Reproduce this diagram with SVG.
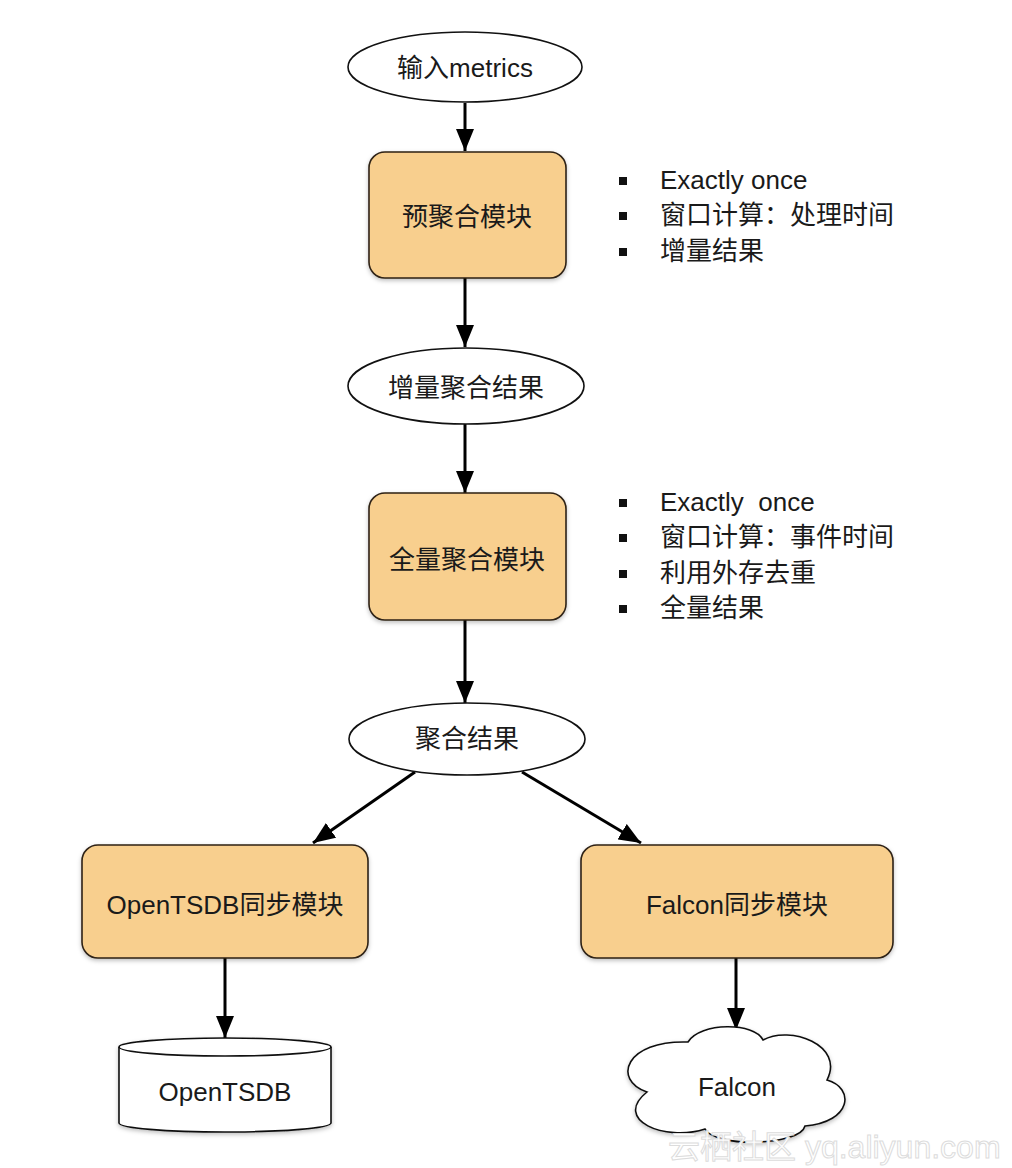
<svg xmlns="http://www.w3.org/2000/svg" width="1012" height="1168" viewBox="0 0 1012 1168">
<defs>
<style>
.t{font-family:"Liberation Sans","Noto Sans CJK SC",sans-serif;font-size:26px;fill:#1a1a1a}
.c{text-anchor:middle}
.box{fill:#f8cf8e;stroke:#2e2216;stroke-width:1.6}
.ell{fill:#fff;stroke:#111;stroke-width:1.6}
.edge{stroke:#000;stroke-width:3;fill:none;marker-end:url(#ah)}
.bul{fill:#111}
</style>
<marker id="ah" markerUnits="userSpaceOnUse" markerWidth="22" markerHeight="18" viewBox="0 0 22 18" refX="22" refY="9" orient="auto">
<path d="M0,0 L22,9 L0,18 Z" fill="#000"/>
</marker>
<filter id="sh" x="-10%" y="-10%" width="120%" height="130%">
<feDropShadow dx="0" dy="2" stdDeviation="2" flood-color="#000" flood-opacity="0.25"/>
</filter>
</defs>
<rect width="1012" height="1168" fill="#fff"/>

<g id="connectors">
<line class="edge" x1="465" y1="103" x2="465" y2="151"/>
<line class="edge" x1="465" y1="278" x2="465" y2="347"/>
<line class="edge" x1="465" y1="424" x2="465" y2="493"/>
<line class="edge" x1="465" y1="620" x2="465" y2="703"/>
<line class="edge" x1="415" y1="772" x2="313" y2="843"/>
<line class="edge" x1="522" y1="772" x2="641" y2="843"/>
<line class="edge" x1="225" y1="958" x2="225" y2="1038"/>
<line class="edge" x1="736" y1="958" x2="736" y2="1030"/>
</g>

<g id="input-metrics">
<ellipse class="ell" cx="465" cy="67" rx="117" ry="35"/>
<text class="t c" x="465" y="77">输入metrics</text>
</g>

<g id="pre-agg">
<rect class="box" x="369" y="152" width="197" height="126" rx="16" filter="url(#sh)"/>
<text class="t c" x="467" y="226">预聚合模块</text>
</g>

<g id="notes-1">
<rect class="bul" x="619" y="177" width="8" height="8"/>
<rect class="bul" x="619" y="212" width="8" height="8"/>
<rect class="bul" x="619" y="248" width="8" height="8"/>
<text class="t" x="660" y="189">Exactly once</text>
<text class="t" x="660" y="224">窗口计算：处理时间</text>
<text class="t" x="660" y="260">增量结果</text>
</g>

<g id="incr-result">
<ellipse class="ell" cx="466" cy="386" rx="118" ry="38"/>
<text class="t c" x="466" y="397">增量聚合结果</text>
</g>

<g id="full-agg">
<rect class="box" x="369" y="493" width="197" height="127" rx="16" filter="url(#sh)"/>
<text class="t c" x="467" y="569">全量聚合模块</text>
</g>

<g id="notes-2">
<rect class="bul" x="619" y="499" width="8" height="8"/>
<rect class="bul" x="619" y="534" width="8" height="8"/>
<rect class="bul" x="619" y="570" width="8" height="8"/>
<rect class="bul" x="619" y="605" width="8" height="8"/>
<text class="t" x="660" y="511" xml:space="preserve">Exactly  once</text>
<text class="t" x="660" y="546">窗口计算：事件时间</text>
<text class="t" x="660" y="582">利用外存去重</text>
<text class="t" x="660" y="617">全量结果</text>
</g>

<g id="agg-result">
<ellipse class="ell" cx="467" cy="739" rx="118" ry="36"/>
<text class="t c" x="467" y="748">聚合结果</text>
</g>

<g id="opentsdb-sync">
<rect class="box" x="82" y="845" width="286" height="113" rx="16" filter="url(#sh)"/>
<text class="t c" x="225" y="914">OpenTSDB同步模块</text>
</g>

<g id="falcon-sync">
<rect class="box" x="581" y="845" width="312" height="113" rx="16" filter="url(#sh)"/>
<text class="t c" x="737" y="914">Falcon同步模块</text>
</g>

<g id="opentsdb">
<path d="M119,1047 L119,1123 A106,9 0 0 0 331,1123 L331,1047 A106,9 0 0 0 119,1047 Z" fill="#fff" stroke="#111" stroke-width="1.6" filter="url(#sh)"/>
<path d="M119,1047 A106,9 0 0 0 331,1047" fill="none" stroke="#111" stroke-width="1.6"/>
<text class="t c" x="225" y="1101">OpenTSDB</text>
</g>

<g id="falcon">
<path d="M688,1042 C700,1022 755,1022 763,1040 C790,1025 845,1045 827,1080 C855,1088 852,1122 805,1126 C800,1146 715,1148 705,1129 C665,1142 612,1120 647,1092 C612,1080 625,1040 688,1042 Z" fill="#fff" stroke="#111" stroke-width="1.6" filter="url(#sh)"/>
<text class="t c" x="737" y="1096">Falcon</text>
</g>

<g id="watermark">
<text x="668" y="1158" font-family="Liberation Sans,'Noto Sans CJK SC',sans-serif" font-size="32" fill="#fff" stroke="#dcdcdc" stroke-width="1">云栖社区 yq.aliyun.com</text>
</g>
</svg>
